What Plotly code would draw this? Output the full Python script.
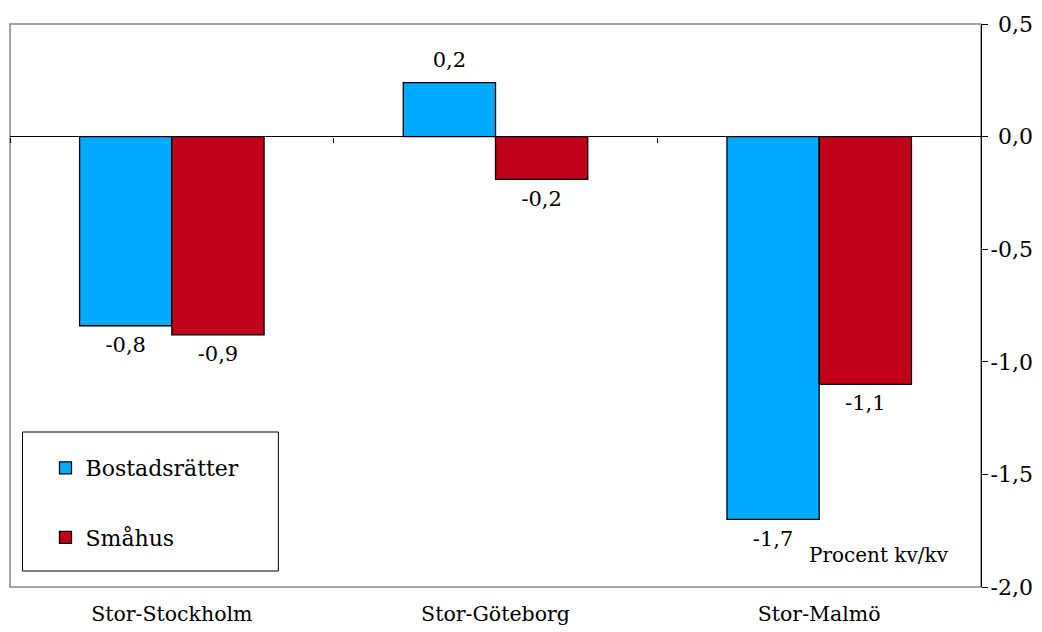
import plotly.graph_objects as go

categories = ["Stor-Stockholm", "Stor-Göteborg", "Stor-Malmö"]
bostadsratter = [-0.84, 0.24, -1.70]
smahus = [-0.88, -0.19, -1.10]
bostad_labels = ["-0,8", "0,2", "-1,7"]
smahus_labels = ["-0,9", "-0,2", "-1,1"]
ytick_vals = [0.5, 0.0, -0.5, -1.0, -1.5, -2.0]
ytick_text = ["0,5", "0,0", "-0,5", "-1,0", "-1,5", "-2,0"]

FONT = "DejaVu Serif"
BLUE = "#00AAFF"
RED = "#C00018"
GAP = 0.43

# page offset (browser body margin)
OFF = 8
W, H = 1042 - OFF, 632 - OFF
# plot area in screen pixels
SX0, SX1, SY0, SY1 = 9.5, 981, 24, 587
PX1 = 1033  # right edge of paper area (tick labels end here)
L = SX0 - OFF
T = SY0 - OFF
R = W - (PX1 - OFF)
B = H - (SY1 - OFF)
pw = W - L - R
ph = H - T - B


def px_x(p):
    return (p - SX0) / pw


def px_y(p):
    return (SY1 - p) / ph


def label_pos(vals):
    return ["top center" if v >= 0 else "bottom center" for v in vals]


fig = go.Figure()
for name, vals, color, grp in [("Bostadsrätter", bostadsratter, BLUE, "a"),
                               ("Småhus", smahus, RED, "b")]:
    fig.add_trace(go.Bar(
        x=categories, y=vals, name=name,
        marker=dict(color=color, line=dict(color="black", width=1.3)),
        legendgroup=grp, offsetgroup=grp,
    ))
for vals, labels, grp in [(bostadsratter, bostad_labels, "a"),
                          (smahus, smahus_labels, "b")]:
    fig.add_trace(go.Scatter(
        x=categories, y=vals, mode="markers+text", text=labels,
        textposition=label_pos(vals), cliponaxis=False,
        textfont=dict(family=FONT, size=21, color="black"),
        marker=dict(size=15, opacity=0),
        offsetgroup=grp, showlegend=False, hoverinfo="skip",
    ))
fig.add_trace(go.Scatter(x=[None], y=[None], xaxis="x2", showlegend=False, hoverinfo="skip"))
fig.add_trace(go.Scatter(x=[None], y=[None], yaxis="y2", showlegend=False, hoverinfo="skip"))

fig.update_layout(
    width=W, height=H,
    margin=dict(l=L, r=R, t=T, b=B, pad=0),
    paper_bgcolor="white", plot_bgcolor="white",
    barmode="group", bargap=GAP, bargroupgap=0,
    scattermode="group", scattergap=GAP,
    font=dict(family=FONT, size=20, color="black"),
    xaxis=dict(
        domain=[0, px_x(SX1)],
        type="category", range=[-0.5, 2.5], showgrid=False, showline=False,
        ticks="", ticklabelstandoff=12, zeroline=False,
        tickfont=dict(family=FONT, size=20.5),
    ),
    xaxis2=dict(
        domain=[0, px_x(SX1)],
        overlaying="x", anchor="free", position=0.8, side="bottom",
        range=[-0.5, 2.5], showgrid=False, showline=False, zeroline=False,
        tickmode="array", tickvals=[-0.5, 0.5, 1.5, 2.5], ticktext=["", "", "", ""],
        ticks="outside", ticklen=5, tickcolor="black", tickwidth=1,
    ),
    yaxis=dict(
        side="right", range=[-2.0, 0.5], showgrid=False,
        showline=True, linecolor="black", linewidth=1,
        ticks="outside", ticklen=6, tickcolor="black",
        tickmode="array", tickvals=ytick_vals, showticklabels=False,
        zeroline=True, zerolinecolor="black", zerolinewidth=1,
    ),
    yaxis2=dict(
        overlaying="y", side="left", anchor="free", position=1.0,
        range=[-2.0, 0.5], showgrid=False, showline=False, zeroline=False,
        ticks="", tickmode="array", tickvals=ytick_vals, ticktext=ytick_text,
        tickfont=dict(family=FONT, size=22),
    ),
    showlegend=True,
    legend=dict(
        x=px_x(45), y=px_y(447), xanchor="left", yanchor="top",
        bgcolor="rgba(0,0,0,0)", borderwidth=0,
        font=dict(family=FONT, size=22),
        traceorder="grouped", tracegroupgap=38,
    ),
    shapes=[
        dict(type="rect", xref="x domain", yref="y domain", x0=0, x1=1, y0=0, y1=1,
             line=dict(color="#888888", width=1.5), layer="below"),
        dict(type="rect", xref="paper", yref="paper",
             x0=px_x(22), x1=px_x(278), y0=px_y(571), y1=px_y(432),
             line=dict(color="black", width=1), fillcolor="white", layer="below"),
    ],
    annotations=[
        dict(text="Procent kv/kv", xref="paper", yref="paper",
             x=px_x(807), y=px_y(555), xanchor="left", yanchor="middle",
             showarrow=False, font=dict(family=FONT, size=20, color="black")),
    ],
)

fig.write_html("out.html")
